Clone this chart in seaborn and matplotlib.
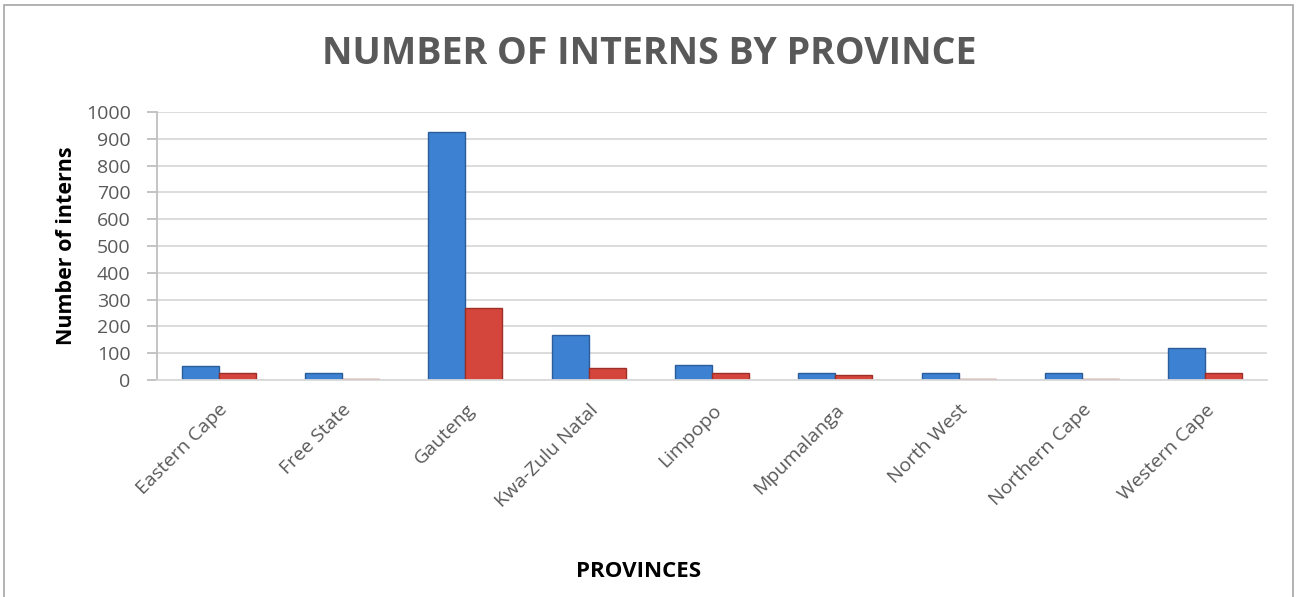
import matplotlib
matplotlib.use("Agg")
import matplotlib.pyplot as plt
import matplotlib.patches as mpatches
import numpy as np
import pandas as pd
import seaborn as sns

provinces = ["Eastern Cape", "Free State", "Gauteng", "Kwa-Zulu Natal", "Limpopo",
             "Mpumalanga", "North West", "Northern Cape", "Western Cape"]
series_a = [53, 25, 924, 167, 55, 27, 25, 25, 118]
series_b = [27, 5, 267, 46, 25, 17, 4, 3, 25]
series_names = ["Series 1", "Series 2"]
y_ticks = list(range(0, 1001, 100))

df = pd.DataFrame({
    "Province": provinces * 2,
    "Interns": series_a + series_b,
    "Series": [series_names[0]] * len(provinces) + [series_names[1]] * len(provinces),
})

sns.set_theme(style="white")
plt.rcParams["font.family"] = ["Open Sans", "DejaVu Sans"]

fig = plt.figure(figsize=(12.98, 5.97), dpi=100)
ax = fig.add_axes([0.121, 0.3635, 0.855, 0.449])

sns.barplot(data=df, x="Province", y="Interns", hue="Series", order=provinces,
            hue_order=series_names, palette=["#3d82d2", "#d4463b"], width=0.6,
            gap=0, legend=False, ax=ax, saturation=1)

edge_cols = {0: "#2a5d99", 1: "#9c2f27"}
for i, cont in enumerate(ax.containers):
    for bar in cont:
        bar.set_edgecolor(edge_cols[i])
        bar.set_linewidth(1.0)

ax.set_ylim(0, 1000)
ax.set_xlim(-0.5, len(provinces) - 0.5)
ax.set_yticks(y_ticks)
ax.set_yticklabels([str(t) for t in y_ticks], fontsize=14, color="#595959")
ax.grid(axis="y", color="#d9d9d9", linewidth=1.3)
ax.set_axisbelow(True)
for side in ["top", "right"]:
    ax.spines[side].set_visible(False)
ax.spines["left"].set_color("#bfbfbf")
ax.spines["bottom"].set_color("#d9d9d9")
ax.spines["left"].set_linewidth(1.3)
ax.spines["bottom"].set_linewidth(1.3)
ax.tick_params(axis="y", length=7, width=1.3, color="#bfbfbf", pad=12, left=True)
ax.tick_params(axis="x", length=0, pad=15)
ax.set_xticks(range(len(provinces)))
ax.set_xticklabels(provinces, rotation=45, ha="right", rotation_mode="anchor",
                   fontsize=14, color="#595959")

ax.set_xlabel("")
ax.set_ylabel("Number of interns", fontsize=15.5, fontweight="bold", color="#000000",
              labelpad=6)
fig.text(0.492, 0.042, "PROVINCES", fontsize=16, fontweight="bold", color="#000000",
         ha="center", va="center")
fig.text(0.5, 0.91, "NUMBER OF INTERNS BY PROVINCE", fontsize=27, fontweight="bold",
         color="#595959", ha="center", va="center")

# chart frame
fig.patches.append(mpatches.Rectangle((0.003, -0.05), 0.993, 1.042,
                                      transform=fig.transFigure, fill=False,
                                      edgecolor="#a6a6a6", linewidth=1.2))

fig.savefig("out.png", dpi=100, facecolor="white")
